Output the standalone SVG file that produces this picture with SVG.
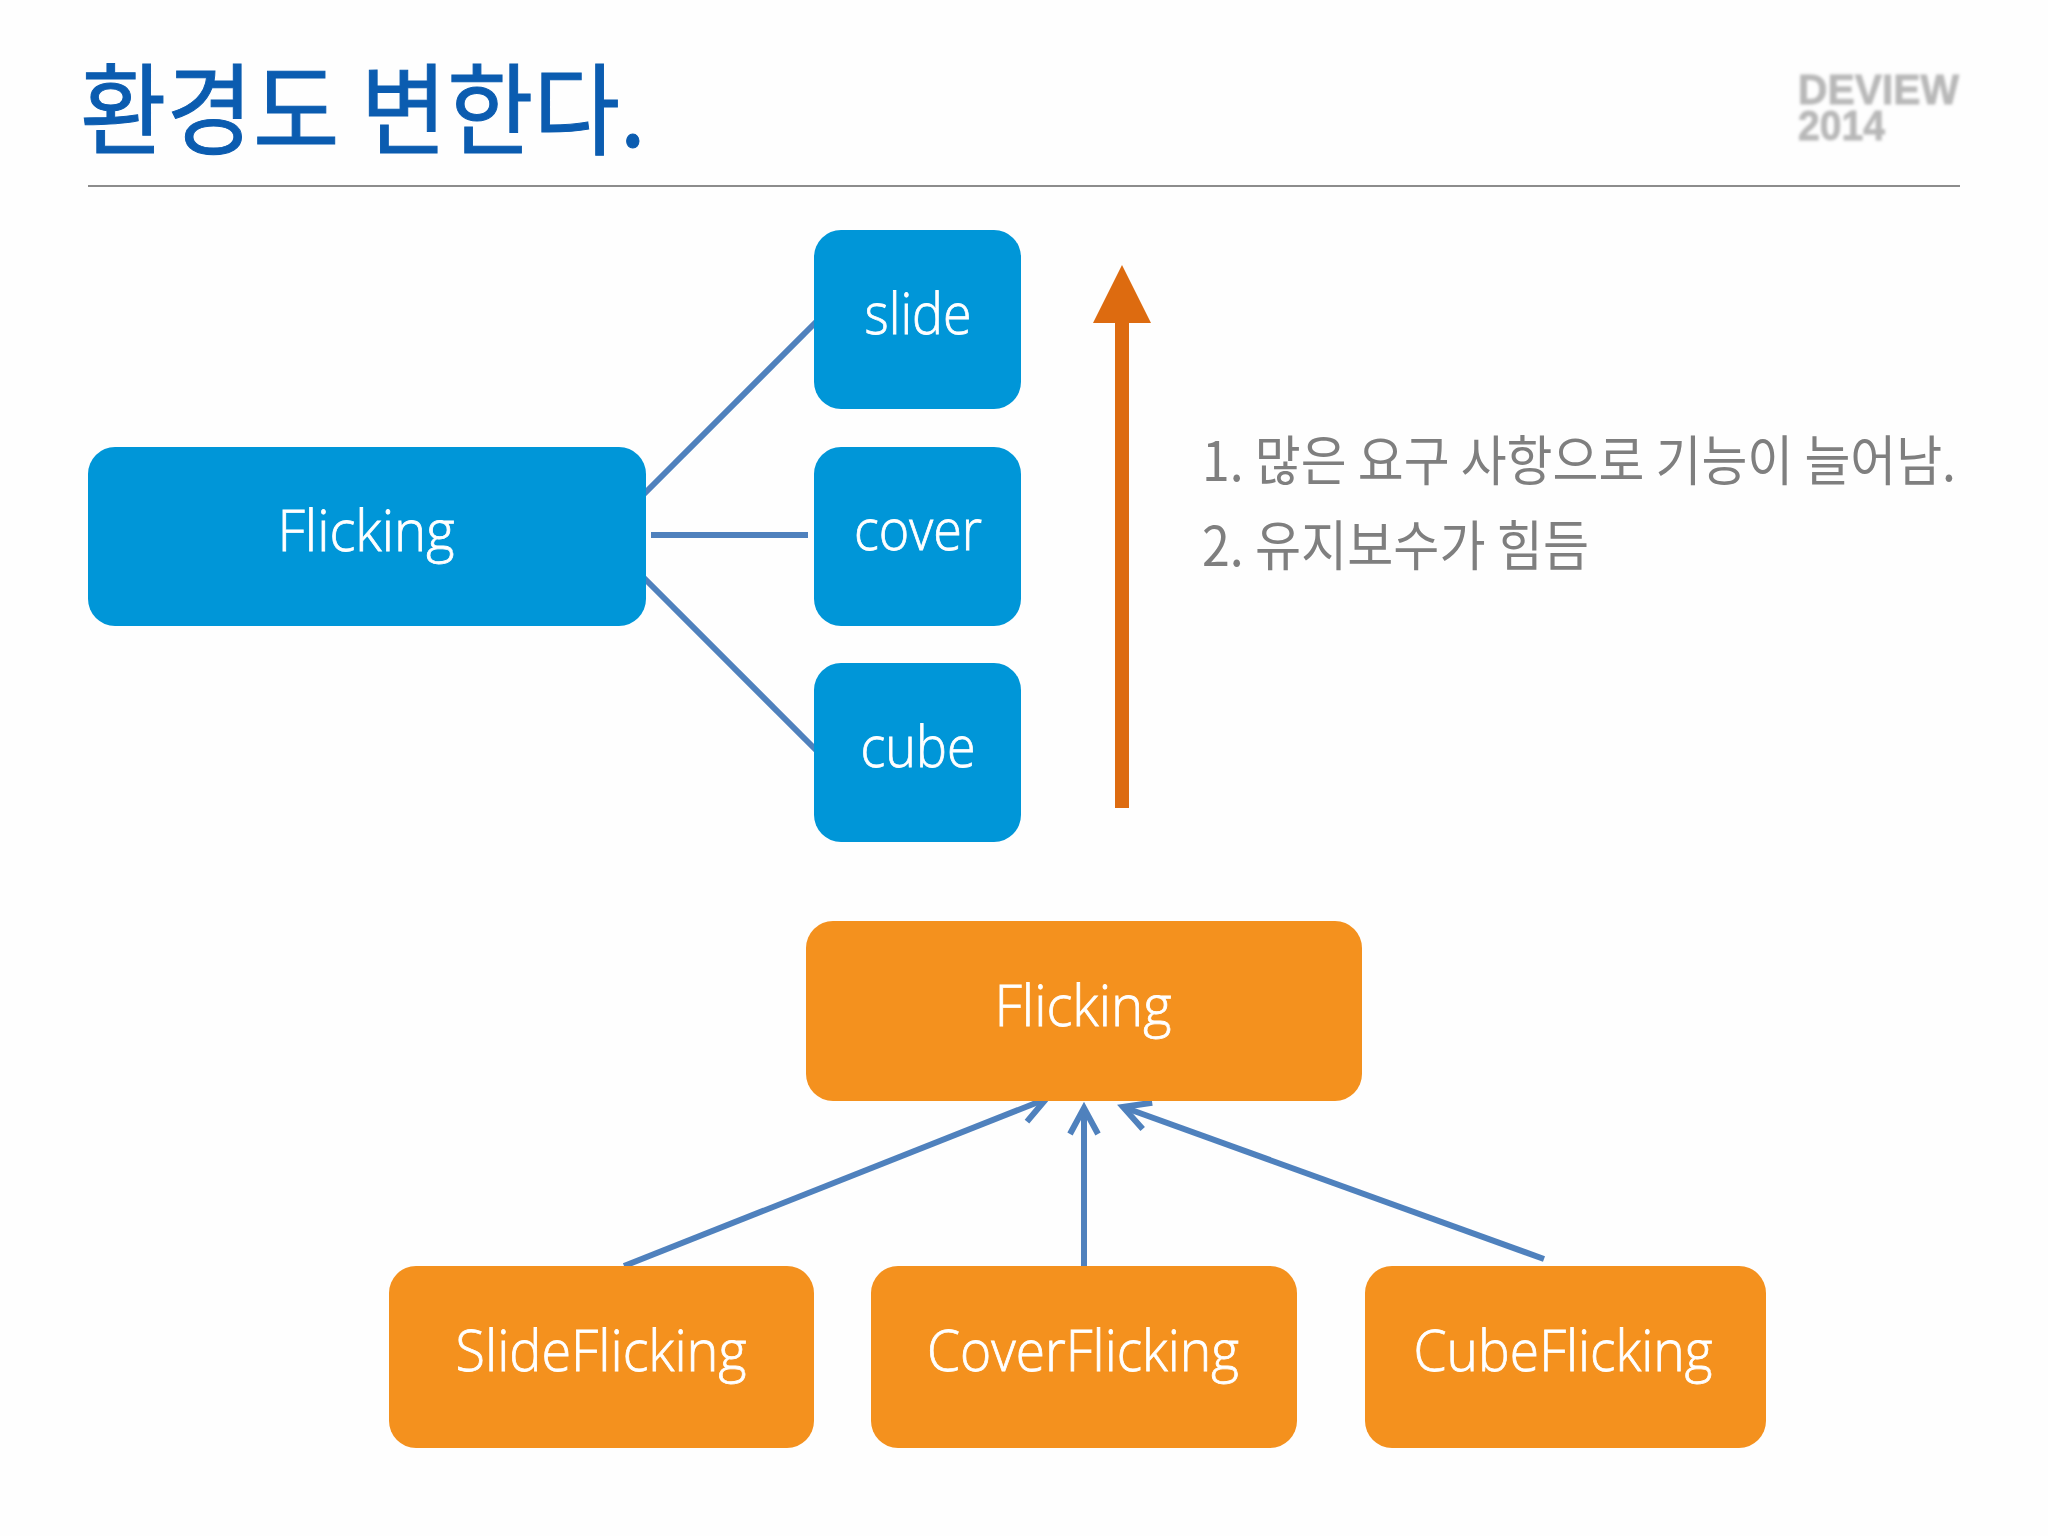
<svg xmlns="http://www.w3.org/2000/svg" width="2048" height="1536" viewBox="0 0 2048 1536">
<style>
.blue{fill:#0096d8}
.orange{fill:#f4911e}
.lbl{font-family:"Open Sans","Noto Sans",sans-serif;font-weight:300;font-size:57px;fill:#fff;stroke:#fff;stroke-width:.8;text-anchor:middle}
.cn{fill:none;stroke:#4f81bd;stroke-width:6}
.body{font-family:"Noto Sans CJK KR",sans-serif;font-weight:400;font-size:54px;fill:#7f7f7f}
.logo{font-family:"Liberation Sans",sans-serif;font-weight:700;font-size:43px;fill:#b8b8b8;stroke:#b8b8b8;stroke-width:.8}
</style>
<defs>
<marker id="open" markerUnits="userSpaceOnUse" markerWidth="40" markerHeight="40" viewBox="-34 -20 40 40" refX="0" refY="0" orient="auto" overflow="visible">
<path d="M-26,-14 L0,0 L-26,14" fill="none" stroke="#4f81bd" stroke-width="6"/>
</marker>
<filter id="soft" x="-10%" y="-20%" width="120%" height="140%"><feGaussianBlur stdDeviation="1.8"/></filter>
</defs>
<rect width="2048" height="1536" fill="#fefefe"/>
<g id="header">
<text x="80" y="147" font-family="'Noto Sans CJK KR',sans-serif" font-size="100" fill="#0b5cb0" stroke="#0b5cb0" stroke-width="1" textLength="566" lengthAdjust="spacingAndGlyphs">환경도 변한다.</text>
<rect x="88" y="185" width="1872" height="2" fill="#8c8c8c"/>
<g filter="url(#soft)">
<text class="logo" x="1798" y="104" textLength="161" lengthAdjust="spacingAndGlyphs">DEVIEW</text>
<text class="logo" x="1798" y="140" textLength="87" lengthAdjust="spacingAndGlyphs">2014</text>
</g>
</g>
<g id="connectors">
<path class="cn" d="M644,494 L820,318"/>
<path class="cn" d="M651,535 L808,535"/>
<path class="cn" d="M643,577 L819,753"/>
<path class="cn" marker-end="url(#open)" d="M624,1266 L1046,1099"/>
<path class="cn" marker-end="url(#open)" d="M1084,1266 L1084,1108"/>
<path class="cn" marker-end="url(#open)" d="M1544,1259 L1123,1107"/>
</g>
<g id="node-flicking-blue"><rect class="blue" x="88" y="447" width="558" height="179" rx="27"/><text class="lbl" x="366" y="551" textLength="177" lengthAdjust="spacingAndGlyphs">Flicking</text></g>
<g id="node-slide"><rect class="blue" x="814" y="230" width="207" height="179" rx="27"/><text class="lbl" x="918" y="334" textLength="107" lengthAdjust="spacingAndGlyphs">slide</text></g>
<g id="node-cover"><rect class="blue" x="814" y="447" width="207" height="179" rx="27"/><text class="lbl" x="918" y="550" textLength="128" lengthAdjust="spacingAndGlyphs">cover</text></g>
<g id="node-cube"><rect class="blue" x="814" y="663" width="207" height="179" rx="27"/><text class="lbl" x="918" y="767" textLength="115" lengthAdjust="spacingAndGlyphs">cube</text></g>
<g id="growth-arrow"><path d="M1115,808 V323 H1093 L1122,265 L1151,323 H1129 V808 Z" fill="#dd6b10"/></g>
<g id="notes">
<text class="body" x="1202" y="481" textLength="754" lengthAdjust="spacingAndGlyphs">1. 많은 요구 사항으로 기능이 늘어남.</text>
<text class="body" x="1202" y="566" textLength="387" lengthAdjust="spacingAndGlyphs">2. 유지보수가 힘듬</text>
</g>
<g id="node-flicking-orange"><rect class="orange" x="806" y="921" width="556" height="180" rx="27"/><text class="lbl" x="1083" y="1026" textLength="177" lengthAdjust="spacingAndGlyphs">Flicking</text></g>
<g id="node-slideflicking"><rect class="orange" x="389" y="1266" width="425" height="182" rx="27"/><text class="lbl" x="601" y="1371" textLength="291" lengthAdjust="spacingAndGlyphs">SlideFlicking</text></g>
<g id="node-coverflicking"><rect class="orange" x="871" y="1266" width="426" height="182" rx="27"/><text class="lbl" x="1083" y="1371" textLength="312" lengthAdjust="spacingAndGlyphs">CoverFlicking</text></g>
<g id="node-cubeflicking"><rect class="orange" x="1365" y="1266" width="401" height="182" rx="27"/><text class="lbl" x="1563" y="1371" textLength="299" lengthAdjust="spacingAndGlyphs">CubeFlicking</text></g>
</svg>
